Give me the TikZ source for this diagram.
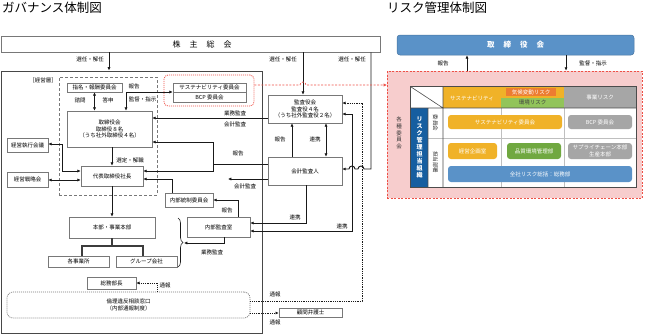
\documentclass[tikz,border=0pt]{standalone}
\usepackage{fontspec}
\setmainfont{Noto Sans CJK JP}
\usetikzlibrary{arrows.meta}
\usetikzlibrary{positioning}
\usetikzlibrary{calc}
\usetikzlibrary{decorations.pathreplacing}

\definecolor{boxline}{RGB}{120,120,120}
\definecolor{arrowline}{RGB}{25,25,25}
\definecolor{riskyellow}{RGB}{240,178,40}
\definecolor{riskgreen}{RGB}{146,196,90}
\definecolor{deptgreen}{RGB}{112,168,64}
\definecolor{riskgray}{RGB}{166,166,166}
\definecolor{riskblue}{RGB}{90,146,200}
\definecolor{darkblue}{RGB}{22,94,160}
\definecolor{climate}{RGB}{237,125,49}
\definecolor{pinkbg}{RGB}{247,205,205}
\definecolor{reddash}{RGB}{238,80,70}

\newcommand{\sz}{\fontsize{5.5}{6.6}\selectfont}

\begin{document}
\begin{tikzpicture}[x=1pt, y=-1pt, font=\sz,
    box/.style={draw=boxline, line width=0.6pt, fill=white, inner sep=0pt, align=center},
    lbl/.style={inner sep=0pt, align=center},
    arr/.style={draw=arrowline, line width=0.9pt, -{Latex[length=3.4pt,width=3.2pt]}},
    darr/.style={draw=arrowline, line width=0.9pt, {Latex[length=3.4pt,width=3.2pt]}-{Latex[length=3.4pt,width=3.2pt]}},
    tsuho/.style={draw=arrowline, line width=0.8pt, dash pattern=on 1pt off 0.8pt, -{Latex[length=3.2pt,width=3pt]}},
    pill/.style={rounded corners=3pt, text=white, inner sep=0pt, align=center}]

  \useasboundingbox (0,0) rectangle (645,335);

  % titles
  \node[lbl, anchor=west, font=\fontsize{12.5}{14}\selectfont] (gtitle) at (2,8) {ガバナンス体制図};
  \node[lbl, anchor=west, font=\fontsize{12.5}{14}\selectfont] (rtitle) at (387,8) {リスク管理体制図};

  % ---- governance ----
  \node[box, minimum width=379pt, minimum height=16pt] (soukai) at (190.5,44) {};
  \node[lbl, font=\fontsize{8}{9}\selectfont] (soukaiT) at (202,44) {株\hspace{9pt}主\hspace{9pt}総\hspace{9pt}会};

  \node[draw=arrowline!80, line width=0.8pt, minimum width=261pt, minimum height=262pt, inner sep=0pt] (frame) at (131.5,202) {};
  \node[draw=boxline, line width=0.7pt, dash pattern=on 3pt off 2pt, minimum width=98pt, minimum height=118pt, inner sep=0pt] (keieiso) at (108,136) {};
  \node[lbl] (keiLbl) at (43,80) {［経営層］};

  \node[box, minimum width=55pt, minimum height=9pt] (shimei) at (94.5,87.5) {指名・報酬委員会};
  \node[draw=reddash, line width=0.8pt, dash pattern=on 1pt off 1pt, rounded corners=4pt, minimum width=90pt, minimum height=31pt, inner sep=0pt] (redbox) at (209,90.5) {};
  \node[box, minimum width=73pt, minimum height=9pt] (sus) at (209.5,87.5) {サステナビリティ委員会};
  \node[box, minimum width=73pt, minimum height=10pt] (bcp) at (209.5,97) {BCP 委員会};

  \node[box, minimum width=85pt, minimum height=36pt] (torishimari) at (109.5,129) {取締役会\\取締役８名\\（うち社外取締役４名）};
  \node[box, minimum width=62pt, minimum height=20pt] (shacho) at (112,176) {代表取締役社長};
  \node[box, minimum width=41pt, minimum height=14pt] (shikkou) at (27.5,145) {経営執行会議};
  \node[box, minimum width=41pt, minimum height=15pt] (senryaku) at (27.5,179.5) {経営戦略会};
  \node[box, minimum width=48pt, minimum height=14pt] (naibutousei) at (189,200) {内部統制委員会};

  \node[box, minimum width=86pt, minimum height=21pt] (honbu) at (112,227.5) {本部・事業本部};
  \node[box, minimum width=61pt, minimum height=11pt] (jigyosho) at (78.5,261.5) {各事業所};
  \node[box, minimum width=61pt, minimum height=11pt] (group) at (146.5,261.5) {グループ会社};
  \node[box, minimum width=49pt, minimum height=12pt] (soumu) at (111.5,283) {総務部長};
  \node[draw=boxline, line width=0.7pt, dash pattern=on 1pt off 1pt, rounded corners=6pt, minimum width=243pt, minimum height=26pt, inner sep=0pt, align=center] (rinri) at (128.5,305) {倫理違反相談窓口\\（内部通報制度）};
  \node[box, minimum width=63pt, minimum height=20pt] (naibukansa) at (218.5,227) {内部監査室};

  \node[box, minimum width=74pt, minimum height=28pt] (kansayaku) at (305,109) {監査役会\\監査役４名\\（うち社外監査役２名）};
  \node[box, minimum width=74pt, minimum height=28pt] (kaikei) at (305,171) {会計監査人};
  \node[box, minimum width=63pt, minimum height=9pt] (bengoshi) at (310.5,312.5) {顧問弁護士};

  % selection by shareholders
  \draw[arr] (109,0 |- soukai.south) -- (109,0 |- frame.north);
  \node[lbl] (sA) at (90,59) {選任・解任};
  \draw[arr] (303,0 |- soukai.south) -- (303,0 |- kansayaku.north);
  \node[lbl] (sB) at (283,59) {選任・解任};
  \draw[arr] (371,0 |- soukai.south) -- (371,169) -- (364,169)
    arc[start angle=0, end angle=180, radius=3pt] -- (355,169)
    arc[start angle=0, end angle=180, radius=3pt] -- (kaikei.east |- 0,169);
  \node[lbl] (sC) at (352,59) {選任・解任};

  % board
  \draw[darr] (shimei.south) -- (torishimari.north -| shimei.south);
  \node[lbl] (shimon) at (80,100) {諮問};
  \node[lbl] (toushin) at (108,100) {答申};
  \draw[darr] (126,0 |- torishimari.north) -- (126,92) -- (sus.west |- 0,92);
  \node[lbl] (hokA) at (134,86) {報告};
  \node[lbl] (kantoku) at (142.5,99) {監督・指示};
  \draw[draw=reddash, line width=0.7pt, dash pattern=on 2pt off 1.5pt, -{Latex[length=3.5pt,width=3.5pt]}]
    (redbox.east |- 0,85) -- (300,85) arc[start angle=180, end angle=0, radius=3pt] -- (387,85);

  \draw[arr] (kansayaku.west |- 0,118) -- (torishimari.east |- 0,118);
  \node[lbl] (gyomuA) at (235,113) {業務監査};
  \node[lbl] (kaikeiA) at (235,124) {会計監査};
  \draw[arr] (kaikei.west |- 0,164) -- (213,164) -- (213,142) -- (torishimari.east |- 0,142);
  \draw[arr] (213,164) -- (213,171) -- (shacho.east |- 0,171);
  \node[lbl] (hokB) at (238,153) {報告};
  \draw[arr] (kaikei.west |- 0,179) -- (228,179);
  \node[lbl] (kaikeiB) at (245,186) {会計監査};

  \draw[arr] (292,0 |- kaikei.north) -- (292,0 |- kansayaku.south);
  \node[lbl] (hokC) at (280,139) {報告};
  \draw[darr] (326,0 |- kaikei.north) -- (326,0 |- kansayaku.south);
  \node[lbl] (renA) at (315,139) {連携};

  \draw[arr] (torishimari.south -| shacho.north) -- (shacho.north);
  \node[lbl] (sentei) at (130,160) {選定・解職};
  \draw[darr] (shacho.west |- 0,171) -- (62,171) -- (62,144) -- (shikkou.east |- 0,144);
  \draw[darr] (shacho.west |- 0,180) -- (senryaku.east |- 0,180);
  \draw[arr] (172,0 |- naibutousei.north) -- (172,179) -- (shacho.east |- 0,179);
  \draw[arr] (shacho.south) -- (honbu.north);

  % internal audit
  \draw[arr] (238,0 |- naibukansa.north) -- (238,200) -- (naibutousei.east |- 0,200);
  \node[lbl] (hokD) at (227,210) {報告};
  \draw[arr] (306,0 |- kaikei.south) -- (306,223) -- (naibukansa.east |- 0,223);
  \node[lbl] (renB) at (295,217) {連携};
  \draw[darr] (naibukansa.east |- 0,231) -- (352,231) -- (352,114) -- (kansayaku.east |- 0,114);
  \node[lbl] (renC) at (342,226) {連携};
  \draw[arr] (224,0 |- naibukansa.south) -- (224,243) -- (184,243);
  \node[lbl] (gyomuB) at (212,252) {業務監査};
  \draw[draw=arrowline, line width=0.6pt, decorate, decoration={brace, amplitude=5pt}] (178,218) -- (178,267);

  % organisation tree
  \draw[draw=arrowline!85, line width=1.1pt] (honbu.south) -- (112,246)
    (82,0 |- jigyosho.north) -- (82,246) -- (143,246) -- (143,0 |- group.north);

  % whistleblowing
  \draw[tsuho] (157,0 |- rinri.north) -- (157,283) -- (soumu.east |- 0,283);
  \node[lbl] (tsuA) at (165,285) {通報};
  \draw[tsuho] (rinri.east |- 0,301) -- (362,301) -- (362,103) -- (kansayaku.east |- 0,103);
  \node[lbl] (tsuB) at (275,294) {通報};
  \draw[tsuho] (rinri.east |- 0,313) -- (bengoshi.west |- 0,313);
  \node[lbl] (tsuC) at (275,322) {通報};

  % ---- risk management ----
  \node[fill=riskblue, draw=riskblue!80!black, line width=0.5pt, rounded corners=3pt, minimum width=237pt, minimum height=20pt, inner sep=0pt, text=white, font=\fontsize{7.5}{9}\selectfont\bfseries] (rtori) at (515.5,45) {取\hspace{9pt}締\hspace{9pt}役\hspace{9pt}会};
  \node[draw=reddash, line width=0.7pt, dash pattern=on 2pt off 1.5pt, fill=pinkbg, minimum width=255pt, minimum height=127pt, inner sep=0pt] (pink) at (514.5,134.5) {};
  \draw[arr] (467,0 |- pink.north) -- (467,0 |- rtori.south);
  \node[lbl] (rHok) at (443,63) {報告};
  \draw[arr] (566,0 |- rtori.south) -- (566,0 |- pink.north);
  \node[lbl] (rKan) at (593,63) {監督・指示};
  \node[lbl, text=black!80] (kakushu) at (399,133) {各\\種\\委\\員\\会};

  \node[fill=white, minimum width=225pt, minimum height=100pt, inner sep=0pt] (tbl) at (523.5,137) {};
  \fill[riskyellow] (443,87) rectangle (564,97.5);
  \fill[riskyellow] (443,97.5) rectangle (501,108);
  \node[fill=riskgreen, minimum width=63pt, minimum height=10.5pt, inner sep=0pt, text=black!75] (hEnv) at (532.5,102.75) {環境リスク};
  \node[lbl, text=white] (hSus) at (472,98) {サステナビリティ};
  \node[fill=climate, text=white, minimum width=50pt, minimum height=8pt, inner sep=0pt] (hClim) at (531,92) {気候変動リスク};
  \node[fill=riskgray, text=white, minimum width=72pt, minimum height=21pt, inner sep=0pt] (hBiz) at (600,97.5) {事業リスク};
  \node[fill=darkblue, text=white, minimum width=17pt, minimum height=79pt, inner sep=0pt, align=center, font=\fontsize{6}{7}\selectfont\bfseries] (orgCol) at (419.5,147.5) {リ\\ス\\ク\\管\\理\\担\\当\\組\\織};
  \draw[black!25, line width=0.5pt] (501,108) -- (501,187) (564,108) -- (564,187) (428,138) -- (636,138);
  \draw[black!70, line width=0.6pt] (443,87) -- (443,187) (428,108) -- (428,187) (411,108) -- (636,108) (tbl.north west) -- (443,108);
  \draw[black!70, line width=0.8pt] (tbl.north west) rectangle (tbl.south east);
  \node[lbl, rotate=-90, text=black!80] (iinkai) at (435.5,123) {委員会};
  \node[lbl, rotate=-90, text=black!80] (tanto) at (435.5,162) {担当部署};

  \node[pill, fill=riskyellow, minimum width=114pt, minimum height=14pt] (pSus) at (505,122) {サステナビリティ委員会};
  \node[pill, fill=riskgray, minimum width=64pt, minimum height=14pt] (pBcp) at (600,122) {BCP 委員会};
  \node[pill, fill=riskyellow, minimum width=49pt, minimum height=16pt] (pPlan) at (472.5,151) {経営企画室};
  \node[pill, fill=deptgreen, minimum width=54pt, minimum height=16pt] (pQual) at (534,151) {品質環境管理部};
  \node[pill, fill=riskgray, minimum width=64pt, minimum height=16pt] (pSupply) at (600,151) {サプライチェーン本部\\生産本部};
  \node[pill, fill=riskblue, minimum width=184pt, minimum height=16pt] (pAll) at (540,174) {全社リスク総括：総務部};
\end{tikzpicture}
\end{document}
